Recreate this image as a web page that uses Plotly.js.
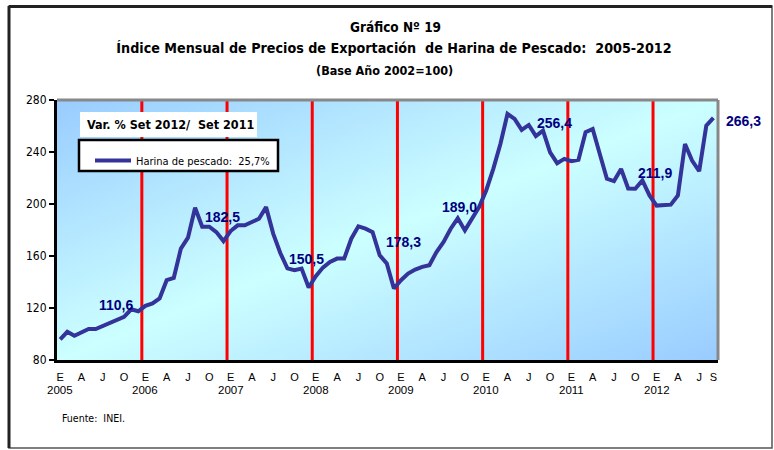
<!DOCTYPE html>
<html>
<head>
<meta charset="utf-8">
<script src="https://cdn.plot.ly/plotly-3.0.1.min.js"></script>
<style>
  html, body { margin: 0; padding: 0; background: #ffffff; }
  #chart { width: 774px; height: 450px; }
</style>
</head>
<body>
<div id="chart"></div>
<script>
// ---------- DATA ----------
const years = [2005, 2006, 2007, 2008, 2009, 2010, 2011, 2012];
const monthLetters = ['E', 'F', 'M', 'A', 'M', 'J', 'J', 'A', 'S', 'O', 'N', 'D'];
const seriesName = 'Harina de pescado:  25,7%';
const boxTitle = 'Var. % Set 2012/  Set 2011';
const indexValues = [
  // 2005
  95.9, 101.7, 98.7, 100.9, 103.8, 103.8, 106.1, 108.9, 110.6, 113.2, 119.0, 117.5,
  // 2006
  121.7, 123.5, 127.3, 141.4, 143.2, 165.7, 174.1, 197.1, 182.5, 182.5, 178.4, 171.5,
  // 2007
  179.2, 183.6, 183.6, 186.1, 188.7, 197.6, 177.2, 162.3, 150.5, 149.0, 150.3, 135.8,
  // 2008
  144.4, 151.1, 155.4, 158.0, 158.0, 173.3, 182.8, 181.0, 178.3, 160.6, 154.2, 135.0,
  // 2009
  141.4, 146.5, 149.6, 151.6, 152.9, 163.1, 170.8, 181.0, 189.0, 179.7, 188.7, 197.6,
  // 2010
  210.4, 227.0, 246.2, 269.3, 265.4, 257.0, 260.8, 252.2, 256.4, 239.8, 231.4, 234.7,
  // 2011
  232.9, 234.0, 255.2, 257.7, 238.5, 219.4, 217.6, 227.0, 211.9, 211.7, 218.1, 206.6,
  // 2012
  198.8, 199.0, 199.5, 206.6, 246.2, 233.4, 225.2, 260.3, 266.3
];
const labelMonth = 8; // September of each year is labelled
const chartNumber = 'Gráfico Nº 19';
const chartTitle = 'Índice Mensual de Precios de Exportación  de Harina de Pescado:  2005-2012';
const chartSubtitle = '(Base Año 2002=100)';
const sourceText = 'Fuente:  INEI.';

// ---------- STYLE ----------
const narrow = '"Liberation Sans Narrow", "Arial Narrow", "DejaVu Sans Condensed", sans-serif';
const arial = '"Liberation Sans", Arial, sans-serif';
const labelShift = [[-1, 15], [20, 10], [19, 9], [31, -10], [2, 11], [12, 8], [27, 16], [30, -3]];

// ---------- DERIVED ----------
const xIdx = indexValues.map((v, i) => i);
const tickVals = [], tickText = [];
xIdx.forEach(i => {
  const m = i % 12;
  if (m % 3 === 0 || i === xIdx.length - 1) { tickVals.push(i); tickText.push(monthLetters[m]); }
});

const L = 57, R = 718, T = 100, B = 360;
const W = 774, H = 450;
const px = x => (x - L) / (R - L);
const py = y => (B - y) / (B - T);

const shapes = [];
// red year separators
years.slice(1).forEach((yr, k) => {
  const xs = (k + 1) * 12 - 0.5;
  shapes.push({type: 'line', xref: 'x', yref: 'paper', x0: xs, x1: xs, y0: 0, y1: 1,
    line: {color: '#FF0000', width: 3}, layer: 'below'});
});
// top & right gray border of plot area
shapes.push({type: 'line', xref: 'paper', yref: 'paper', x0: 0, x1: 1, y0: 1, y1: 1, line: {color: '#888888', width: 3}});
shapes.push({type: 'line', xref: 'paper', yref: 'paper', x0: 1, x1: 1, y0: 0, y1: 1, line: {color: '#888888', width: 3}});
// white title box
shapes.push({type: 'rect', xref: 'paper', yref: 'paper', x0: px(80), x1: px(257), y0: py(137), y1: py(112),
  fillcolor: '#FFFFFF', line: {width: 0}});
// legend frame
shapes.push({type: 'rect', xref: 'paper', yref: 'paper', x0: px(79), x1: px(278), y0: py(171), y1: py(140),
  fillcolor: '#FFFFFF', line: {color: '#000000', width: 2.5}});
// outer frame
shapes.push({type: 'rect', xref: 'paper', yref: 'paper', x0: px(9), x1: px(772), y0: py(448), y1: py(6),
  line: {color: '#555555', width: 1.5}});
shapes.push({type: 'line', xref: 'paper', yref: 'paper', x0: px(9), x1: px(9), y0: py(448), y1: py(6),
  line: {color: '#222222', width: 3}});
shapes.push({type: 'line', xref: 'paper', yref: 'paper', x0: px(9), x1: px(772), y0: py(6.5), y1: py(6.5),
  line: {color: '#222222', width: 3}});

const annotations = [];
// data labels
let li = 0;
xIdx.forEach(i => {
  if (i % 12 === labelMonth) {
    const s = labelShift[li++] || [0, 12];
    annotations.push({x: i, y: indexValues[i], xref: 'x', yref: 'y', showarrow: false,
      text: '<b>' + indexValues[i].toFixed(1).replace('.', ',') + '</b>',
      font: {family: arial, size: 14, color: '#000080'},
      xshift: s[0], yshift: s[1], xanchor: 'center', yanchor: 'middle'});
  }
});
// year labels
years.forEach((yr, k) => {
  annotations.push({x: k * 12, y: 0, xref: 'x', yref: 'paper', yshift: -30, showarrow: false,
    text: String(yr), font: {family: arial, size: 11.5, color: '#000000'}, xanchor: 'center', yanchor: 'middle'});
});
// titles
annotations.push({x: px(395), y: py(27), xref: 'paper', yref: 'paper', showarrow: false,
  text: '<b>' + chartNumber + '</b>', font: {family: narrow, size: 13.5, color: '#000000'}, xanchor: 'center', yanchor: 'middle'});
annotations.push({x: px(384), y: py(71), xref: 'paper', yref: 'paper', showarrow: false,
  text: '<b>' + chartSubtitle + '</b>', font: {family: narrow, size: 12.5, color: '#000000'}, xanchor: 'center', yanchor: 'middle'});
// box title
annotations.push({x: px(85), y: py(124.5), xref: 'paper', yref: 'paper', showarrow: false,
  text: '<b>' + boxTitle + '</b>', font: {family: narrow, size: 12.5, color: '#000000'}, xanchor: 'left', yanchor: 'middle'});
// source
annotations.push({x: px(60), y: py(418), xref: 'paper', yref: 'paper', showarrow: false,
  text: sourceText, font: {family: narrow, size: 10.5, color: '#000000'}, xanchor: 'left', yanchor: 'middle'});

const svg = "<svg xmlns='http://www.w3.org/2000/svg' width='100' height='100' preserveAspectRatio='none'>" +
  "<defs><linearGradient id='g' x1='0' y1='0' x2='1' y2='1'>" +
  "<stop offset='0' stop-color='#99CCFF'/><stop offset='0.5' stop-color='#CCFFFF'/><stop offset='1' stop-color='#99CCFF'/>" +
  "</linearGradient></defs><rect width='100' height='100' fill='url(#g)'/></svg>";

const trace = {
  x: xIdx, y: indexValues, type: 'scatter', mode: 'lines', name: seriesName,
  line: {color: '#333399', width: 4}, showlegend: true, hoverinfo: 'y'
};

const layout = {
  width: W, height: H,
  margin: {l: L, r: W - R, t: T, b: H - B, pad: 0},
  paper_bgcolor: '#FFFFFF', plot_bgcolor: '#CCFFFF',
  title: {text: '<b>' + chartTitle + '</b>',
    font: {family: narrow, size: 14.2, color: '#000000'},
    x: 394 / W, xanchor: 'center', y: 1 - 48 / H, yanchor: 'middle', xref: 'container', yref: 'container'},
  xaxis: {
    range: [-0.45, 92.65], tickmode: 'array', tickvals: tickVals, ticktext: tickText,
    showgrid: false, zeroline: false, showline: true, linecolor: '#000000', linewidth: 3,
    ticks: '', ticklabelstandoff: 5, tickfont: {family: arial, size: 11, color: '#000000'}, fixedrange: true
  },
  yaxis: {
    range: [80, 280], dtick: 40, tick0: 80, showgrid: false, zeroline: false,
    showline: true, linecolor: '#000000', linewidth: 3,
    ticks: 'outside', ticklen: 5, tickwidth: 2, tickcolor: '#000000',
    tickfont: {family: narrow, size: 12, color: '#000000'}, fixedrange: true
  },
  showlegend: true,
  legend: {x: px(90), y: py(146), xanchor: 'left', yanchor: 'top', bgcolor: 'rgba(0,0,0,0)', borderwidth: 0,
    font: {family: narrow, size: 11, color: '#000000'}, itemwidth: 36},
  images: [{source: 'data:image/svg+xml;base64,' + btoa(svg), xref: 'paper', yref: 'paper',
    x: 0, y: 1, sizex: 1, sizey: 1, sizing: 'stretch', layer: 'below', xanchor: 'left', yanchor: 'top'}],
  shapes: shapes,
  annotations: annotations
};

Plotly.newPlot('chart', [trace], layout, {displayModeBar: false, staticPlot: true});
</script>
</body>
</html>
